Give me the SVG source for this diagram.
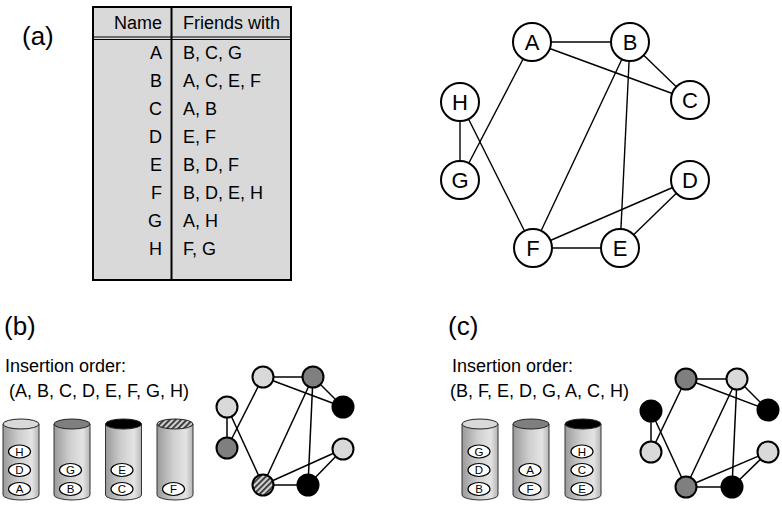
<svg xmlns="http://www.w3.org/2000/svg" width="782" height="511" viewBox="0 0 782 511">
<defs>
<linearGradient id="body" x1="0" y1="0" x2="1" y2="0">
<stop offset="0" stop-color="#9a9a9a"/>
<stop offset="0.45" stop-color="#cfcfcf"/>
<stop offset="0.8" stop-color="#e4e4e4"/>
<stop offset="1" stop-color="#b4b4b4"/>
</linearGradient>
<pattern id="hatch" patternUnits="userSpaceOnUse" width="4" height="4" patternTransform="rotate(45)">
<rect width="4" height="4" fill="#d0d0d0"/>
<rect x="0" y="0" width="1.8" height="4" fill="#333"/>
</pattern>
<g id="cyl">
<path d="M-18,0 L-18,71 A18,5 0 0 0 18,71 L18,0 Z" fill="url(#body)" stroke="#333" stroke-width="1"/>
</g>
</defs>
<style>
text{font-family:"Liberation Sans",Arial,sans-serif;fill:#000}
.lbl{font-size:26px}
.t{font-size:18px}
.tr{font-size:18px;text-anchor:end}
.n{font-size:22px;text-anchor:middle}
.s{font-size:11.5px;text-anchor:middle}
.big{fill:#fff;stroke:#000;stroke-width:2}
.sm{stroke:#000;stroke-width:2}
.e{stroke:#000;stroke-width:1.4;fill:none}
.se{stroke:#000;stroke-width:1.5;fill:none}
.light{fill:#d9d9d9}
.dark{fill:#7f7f7f}
.blk{fill:#000}
.hat{fill:url(#hatch)}
.tag{fill:#fff;stroke:#000;stroke-width:1.2}
.top{stroke:#222;stroke-width:1}
</style>

<text class="lbl" x="22" y="45">(a)</text>
<text class="lbl" x="4" y="335">(b)</text>
<text class="lbl" x="448" y="335">(c)</text>

<g id="table">
<rect x="93" y="7" width="198" height="273" fill="#d9d9d9" stroke="#000" stroke-width="2"/>
<line x1="93" y1="37" x2="291" y2="37" stroke="#000" stroke-width="1"/>
<line x1="93" y1="39.5" x2="291" y2="39.5" stroke="#000" stroke-width="1"/>
<line x1="171.5" y1="7" x2="171.5" y2="280" stroke="#000" stroke-width="2"/>
<text class="tr" x="162" y="29">Name</text>
<text class="t" x="183" y="29">Friends with</text>
<text class="tr" x="162" y="59">A</text><text class="t" x="183" y="59">B, C, G</text>
<text class="tr" x="162" y="87">B</text><text class="t" x="183" y="87">A, C, E, F</text>
<text class="tr" x="162" y="115">C</text><text class="t" x="183" y="115">A, B</text>
<text class="tr" x="162" y="143">D</text><text class="t" x="183" y="143">E, F</text>
<text class="tr" x="162" y="171">E</text><text class="t" x="183" y="171">B, D, F</text>
<text class="tr" x="162" y="199">F</text><text class="t" x="183" y="199">B, D, E, H</text>
<text class="tr" x="162" y="227">G</text><text class="t" x="183" y="227">A, H</text>
<text class="tr" x="162" y="255">H</text><text class="t" x="183" y="255">F, G</text>
</g>

<g id="connectors-a">
<line class="e" x1="532" y1="42" x2="630" y2="42"/>
<line class="e" x1="532" y1="42" x2="690" y2="100"/>
<line class="e" x1="532" y1="42" x2="460" y2="180"/>
<line class="e" x1="630" y1="42" x2="690" y2="100"/>
<line class="e" x1="630" y1="42" x2="533" y2="248"/>
<line class="e" x1="630" y1="42" x2="620" y2="248"/>
<line class="e" x1="460" y1="102" x2="460" y2="180"/>
<line class="e" x1="460" y1="102" x2="533" y2="248"/>
<line class="e" x1="533" y1="248" x2="620" y2="248"/>
<line class="e" x1="533" y1="248" x2="690" y2="180"/>
<line class="e" x1="690" y1="180" x2="620" y2="248"/>
</g>
<g id="node-a-A"><circle class="big" cx="532" cy="42" r="19"/><text class="n" x="532" y="50">A</text></g>
<g id="node-a-B"><circle class="big" cx="630" cy="42" r="19"/><text class="n" x="630" y="50">B</text></g>
<g id="node-a-C"><circle class="big" cx="690" cy="100" r="19"/><text class="n" x="690" y="108">C</text></g>
<g id="node-a-H"><circle class="big" cx="460" cy="102" r="19"/><text class="n" x="460" y="110">H</text></g>
<g id="node-a-G"><circle class="big" cx="460" cy="180" r="19"/><text class="n" x="460" y="188">G</text></g>
<g id="node-a-D"><circle class="big" cx="690" cy="180" r="19"/><text class="n" x="690" y="188">D</text></g>
<g id="node-a-F"><circle class="big" cx="533" cy="248" r="19"/><text class="n" x="533" y="256">F</text></g>
<g id="node-a-E"><circle class="big" cx="620" cy="248" r="19"/><text class="n" x="620" y="256">E</text></g>

<text class="t" x="5" y="372">Insertion order:</text>
<text class="t" x="9" y="397">(A, B, C, D, E, F, G, H)</text>
<text class="t" x="452" y="372">Insertion order:</text>
<text class="t" x="450" y="397">(B, F, E, D, G, A, C, H)</text>

<g id="cyl-b1">
<use href="#cyl" x="21" y="424"/>
<ellipse class="top light" cx="21" cy="424" rx="18" ry="5"/>
<ellipse class="tag" cx="19.5" cy="451.5" rx="11" ry="6.5"/><text class="s" x="19.5" y="455.5">H</text>
<ellipse class="tag" cx="19.5" cy="470" rx="11" ry="6.5"/><text class="s" x="19.5" y="474">D</text>
<ellipse class="tag" cx="19.5" cy="489" rx="11" ry="6.5"/><text class="s" x="19.5" y="493">A</text>
</g>
<g id="cyl-b2">
<use href="#cyl" x="72" y="424"/>
<ellipse class="top dark" cx="72" cy="424" rx="18" ry="5"/>
<ellipse class="tag" cx="70.5" cy="470" rx="11" ry="6.5"/><text class="s" x="70.5" y="474">G</text>
<ellipse class="tag" cx="70.5" cy="489" rx="11" ry="6.5"/><text class="s" x="70.5" y="493">B</text>
</g>
<g id="cyl-b3">
<use href="#cyl" x="123.5" y="424"/>
<ellipse class="top blk" cx="123.5" cy="424" rx="18" ry="5"/>
<ellipse class="tag" cx="122" cy="470" rx="11" ry="6.5"/><text class="s" x="122" y="474">E</text>
<ellipse class="tag" cx="122" cy="489" rx="11" ry="6.5"/><text class="s" x="122" y="493">C</text>
</g>
<g id="cyl-b4">
<use href="#cyl" x="175" y="424"/>
<ellipse class="top hat" cx="175" cy="424" rx="18" ry="5"/>
<ellipse class="tag" cx="173.5" cy="489" rx="11" ry="6.5"/><text class="s" x="173.5" y="493">F</text>
</g>

<g id="connectors-b">
<line class="se" x1="263" y1="377" x2="313" y2="377"/>
<line class="se" x1="263" y1="377" x2="343" y2="407"/>
<line class="se" x1="263" y1="377" x2="227" y2="448"/>
<line class="se" x1="313" y1="377" x2="343" y2="407"/>
<line class="se" x1="313" y1="377" x2="263" y2="485"/>
<line class="se" x1="313" y1="377" x2="308" y2="485"/>
<line class="se" x1="227" y1="407" x2="227" y2="448"/>
<line class="se" x1="227" y1="407" x2="263" y2="485"/>
<line class="se" x1="263" y1="485" x2="308" y2="485"/>
<line class="se" x1="263" y1="485" x2="343" y2="449"/>
<line class="se" x1="343" y1="449" x2="308" y2="485"/>
</g>
<g id="node-b-A"><circle class="sm light" cx="263" cy="377" r="10.5"/></g>
<g id="node-b-B"><circle class="sm dark" cx="313" cy="377" r="10.5"/></g>
<g id="node-b-C"><circle class="sm blk" cx="343" cy="407" r="10.5"/></g>
<g id="node-b-H"><circle class="sm light" cx="227" cy="407" r="10.5"/></g>
<g id="node-b-G"><circle class="sm dark" cx="227" cy="448" r="10.5"/></g>
<g id="node-b-D"><circle class="sm light" cx="343" cy="449" r="10.5"/></g>
<g id="node-b-F"><circle class="sm hat" cx="263" cy="485" r="10.5"/></g>
<g id="node-b-E"><circle class="sm blk" cx="308" cy="485" r="10.5"/></g>

<g id="cyl-c1">
<use href="#cyl" x="480" y="424"/>
<ellipse class="top light" cx="480" cy="424" rx="18" ry="5"/>
<ellipse class="tag" cx="479" cy="451.5" rx="11" ry="6.5"/><text class="s" x="479" y="455.5">G</text>
<ellipse class="tag" cx="479" cy="470" rx="11" ry="6.5"/><text class="s" x="479" y="474">D</text>
<ellipse class="tag" cx="479" cy="489" rx="11" ry="6.5"/><text class="s" x="479" y="493">B</text>
</g>
<g id="cyl-c2">
<use href="#cyl" x="531" y="424"/>
<ellipse class="top dark" cx="531" cy="424" rx="18" ry="5"/>
<ellipse class="tag" cx="530" cy="470" rx="11" ry="6.5"/><text class="s" x="530" y="474">A</text>
<ellipse class="tag" cx="530" cy="489" rx="11" ry="6.5"/><text class="s" x="530" y="493">F</text>
</g>
<g id="cyl-c3">
<use href="#cyl" x="583" y="424"/>
<ellipse class="top blk" cx="583" cy="424" rx="18" ry="5"/>
<ellipse class="tag" cx="582" cy="451.5" rx="11" ry="6.5"/><text class="s" x="582" y="455.5">H</text>
<ellipse class="tag" cx="582" cy="470" rx="11" ry="6.5"/><text class="s" x="582" y="474">C</text>
<ellipse class="tag" cx="582" cy="489" rx="11" ry="6.5"/><text class="s" x="582" y="493">E</text>
</g>

<g id="connectors-c">
<line class="se" x1="686" y1="379" x2="737" y2="379"/>
<line class="se" x1="686" y1="379" x2="768" y2="410"/>
<line class="se" x1="686" y1="379" x2="651" y2="452"/>
<line class="se" x1="737" y1="379" x2="768" y2="410"/>
<line class="se" x1="737" y1="379" x2="686" y2="487"/>
<line class="se" x1="737" y1="379" x2="732" y2="487"/>
<line class="se" x1="651" y1="411" x2="651" y2="452"/>
<line class="se" x1="651" y1="411" x2="686" y2="487"/>
<line class="se" x1="686" y1="487" x2="732" y2="487"/>
<line class="se" x1="686" y1="487" x2="768" y2="452"/>
<line class="se" x1="768" y1="452" x2="732" y2="487"/>
</g>
<g id="node-c-A"><circle class="sm dark" cx="686" cy="379" r="10.5"/></g>
<g id="node-c-B"><circle class="sm light" cx="737" cy="379" r="10.5"/></g>
<g id="node-c-C"><circle class="sm blk" cx="768" cy="410" r="10.5"/></g>
<g id="node-c-H"><circle class="sm blk" cx="651" cy="411" r="10.5"/></g>
<g id="node-c-G"><circle class="sm light" cx="651" cy="452" r="10.5"/></g>
<g id="node-c-D"><circle class="sm light" cx="768" cy="452" r="10.5"/></g>
<g id="node-c-F"><circle class="sm dark" cx="686" cy="487" r="10.5"/></g>
<g id="node-c-E"><circle class="sm blk" cx="732" cy="487" r="10.5"/></g>
</svg>
